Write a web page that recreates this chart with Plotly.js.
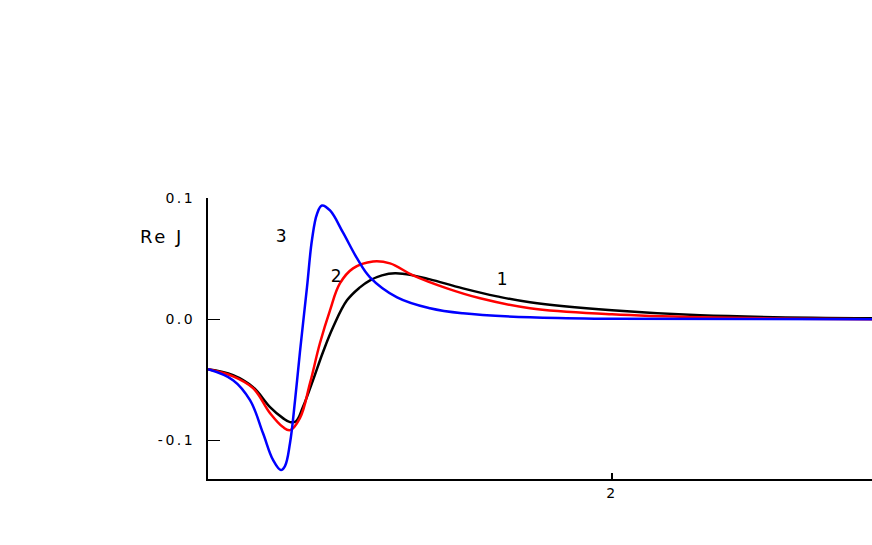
<!DOCTYPE html>
<html>
<head>
<meta charset="utf-8">
<script src="https://cdn.plot.ly/plotly-3.0.1.min.js"></script>
<style>
  body { margin: 0; background: #fff; }
  #chart { width: 872px; height: 545px; }
  #chart g.ytick text, #chart g.xtick text { letter-spacing: 2.5px; }
  #chart .annotation-text { letter-spacing: 2.5px; }
</style>
</head>
<body>
<div id="chart"></div>
<script>
// curve 1 (black)
const x1 = [0, 0.124, 0.223, 0.307, 0.371, 0.406, 0.436, 0.470, 0.520, 0.569, 0.619, 0.688, 0.752, 0.802, 0.861, 0.926, 1.015, 1.099, 1.262, 1.431, 1.594, 2.0, 2.436, 3.287];
const y1 = [-0.0412, -0.0461, -0.056, -0.0724, -0.0815, -0.0848, -0.084, -0.0724, -0.0502, -0.0272, -0.0066, 0.0156, 0.0263, 0.0321, 0.0362, 0.0379, 0.0362, 0.0329, 0.0255, 0.0189, 0.014, 0.0074, 0.0033, 0.0008];

// curve 2 (red)
const x2 = [0, 0.124, 0.223, 0.307, 0.371, 0.406, 0.455, 0.505, 0.554, 0.604, 0.653, 0.718, 0.817, 0.901, 1.015, 1.183, 1.347, 1.594, 2.0, 2.436, 3.287];
const y2 = [-0.0412, -0.047, -0.0568, -0.0774, -0.0889, -0.0914, -0.0815, -0.0527, -0.0198, 0.0074, 0.0296, 0.042, 0.0477, 0.0461, 0.0362, 0.0255, 0.0173, 0.0091, 0.0041, 0.0016, 0.0];

// curve 3 (blue)
const x3 = [0, 0.124, 0.208, 0.272, 0.322, 0.361, 0.381, 0.406, 0.431, 0.455, 0.490, 0.515, 0.540, 0.564, 0.604, 0.668, 0.738, 0.802, 0.936, 1.099, 1.262, 1.594, 2.0, 3.287];
const y3 = [-0.0412, -0.0502, -0.0667, -0.0938, -0.116, -0.1243, -0.1210, -0.1020, -0.0667, -0.0272, 0.0263, 0.0658, 0.0870, 0.0938, 0.0897, 0.0716, 0.0502, 0.0346, 0.0181, 0.0091, 0.0049, 0.0016, 0.0004, 0.0];

const yTicks = [-0.1, 0.0, 0.1];
const yTickText = ['-0.1', '0.0', '0.1'];
const xTicks = [2];
const xTickText = ['2'];

const curveLabels = ['1', '2', '3'];
const labelX = [1.465, 0.639, 0.371];
const labelY = [0.0329, 0.0354, 0.0683];

const font = { family: 'DejaVu Sans, Liberation Sans, sans-serif', color: '#000' };

function curve(x, y, color) {
  return {
    x: x, y: y, mode: 'lines', type: 'scatter',
    line: { color: color, width: 2.5, shape: 'spline', smoothing: 1.1 },
    hoverinfo: 'skip'
  };
}

const traces = [
  curve(x1, y1, '#000000'),
  curve(x2, y2, '#ff0000'),
  curve(x3, y3, '#0000ff')
];

const annotations = curveLabels.map((t, i) => ({
  x: labelX[i], y: labelY[i], xref: 'x', yref: 'y', text: t,
  showarrow: false, font: Object.assign({ size: 17 }, font)
}));
// axis title sits left of the y axis, so place it in paper units
annotations.push({
  x: -0.098, y: 0.907, xref: 'paper', yref: 'paper', text: 'Re J',
  showarrow: false, font: Object.assign({ size: 18 }, font)
});

const layout = {
  width: 872, height: 545,
  margin: { l: 208, r: 0, t: 198, b: 66 },
  paper_bgcolor: '#fff', plot_bgcolor: '#fff',
  showlegend: false,
  font: Object.assign({ size: 14 }, font),
  xaxis: {
    range: [0, 3.287], showgrid: false, zeroline: false,
    showline: true, linecolor: '#000', linewidth: 2,
    ticks: 'inside', ticklen: 6, tickwidth: 2, tickcolor: '#000',
    tickvals: xTicks, ticktext: xTickText,
    tickfont: Object.assign({ size: 14 }, font)
  },
  yaxis: {
    range: [-0.1317, 0.1], showgrid: false, zeroline: false,
    showline: true, linecolor: '#000', linewidth: 2,
    ticks: 'inside', ticklen: 12, tickwidth: 1.5, tickcolor: '#000',
    tickvals: yTicks, ticktext: yTickText, ticklabelstandoff: 8,
    tickfont: Object.assign({ size: 14 }, font)
  },
  annotations: annotations
};

Plotly.newPlot('chart', traces, layout, { staticPlot: true });
</script>
</body>
</html>
